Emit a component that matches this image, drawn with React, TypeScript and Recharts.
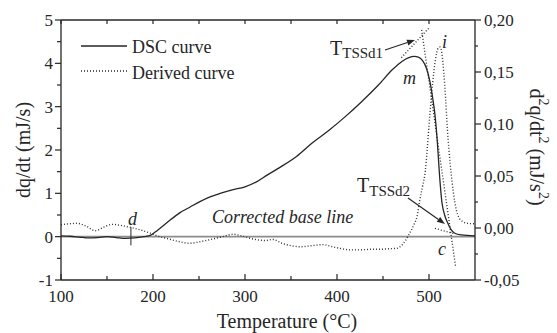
import { ComposedChart, Line, XAxis, YAxis, ReferenceLine } from "recharts";

const INK = "#262626";
const FONT = "Liberation Serif, Times New Roman, serif";

// DSC curve (left axis, mJ/s)
const dscTemp = [100, 110, 120, 130, 140, 150, 160, 170, 180, 190, 197, 205, 215, 229, 240, 251, 262, 273, 286, 300, 312, 324, 338, 356, 373, 391, 409, 427, 445, 460, 471, 478, 484, 489, 493, 497, 501, 504, 506.5, 509, 511.5, 514, 517, 520, 524, 528, 535, 550];
const dscFlow = [0.02, 0.01, -0.01, -0.03, -0.02, 0.0, -0.02, -0.04, -0.03, 0.0, 0.03, 0.15, 0.32, 0.55, 0.68, 0.81, 0.92, 1.0, 1.08, 1.15, 1.26, 1.42, 1.6, 1.85, 2.16, 2.45, 2.77, 3.12, 3.5, 3.85, 4.05, 4.13, 4.16, 4.14, 4.06, 3.9, 3.58, 3.2, 2.81, 2.2, 1.4, 0.8, 0.5, 0.33, 0.16, 0.08, 0.04, 0.02];

// derived curve (right axis, mJ/s^2)
const derTemp = [100, 108, 117, 127, 137, 147, 155, 165, 175, 187, 197, 206, 215, 228, 240, 252, 265, 277, 287, 298, 309, 323, 330, 341, 350, 360, 372, 385, 395, 403, 414, 425, 436, 446, 456, 465, 472, 479, 484, 487, 490, 493, 496, 498, 501, 504, 507, 510, 512, 514, 516, 518, 520, 523, 525, 528, 532, 537, 542, 550];
const derValue = [0.003, 0.004, 0.0045, 0.002, -0.0026, 0.001, 0.0035, 0.0025, 0.0007, -0.002, -0.005, -0.008, -0.01, -0.013, -0.0147, -0.013, -0.0106, -0.008, -0.006, -0.008, -0.0106, -0.012, -0.011, -0.015, -0.017, -0.018, -0.017, -0.016, -0.018, -0.0195, -0.021, -0.021, -0.0205, -0.0205, -0.02, -0.0195, -0.015, -0.005, 0.004, 0.011, 0.027, 0.04, 0.055, 0.075, 0.11, 0.14, 0.162, 0.173, 0.174, 0.168, 0.15, 0.125, 0.095, 0.062, 0.045, 0.025, 0.011, 0.006, 0.0045, 0.004];

const xTicks = [100, 150, 200, 250, 300, 350, 400, 450, 500];
const leftTicks = [-1, -0.5, 0, 0.5, 1, 1.5, 2, 2.5, 3, 3.5, 4, 4.5, 5];
const rightTicks = [-0.05, -0.025, 0, 0.025, 0.05, 0.075, 0.1, 0.125, 0.15, 0.175, 0.2];

// construction lines on the DSC scale
const tangentRise = [{ x: 470, y: 4.13 }, { x: 501, y: 4.84 }];
const tangentFall = [{ x: 492, y: 4.77 }, { x: 529, y: -0.7 }];
const tangentTail = [{ x: 506.5, y: 0.19 }, { x: 527, y: 0.07 }];
const markD = [{ x: 176, y: 0.22 }, { x: 176, y: -0.2 }];

const dscData = dscTemp.map((T, i) => ({ T, v: dscFlow[i] }));
const derData = derTemp.map((T, i) => ({ T, v: derValue[i] }));

const txt = { style: { fontFamily: FONT, fontSize: 17 }, fill: INK };

const BottomTick = ({ x, y, payload }: any) => {
  const major = payload.value % 100 === 0;
  return (
    <g>
      <line x1={x} x2={x} y1={y} y2={y - (major ? 6 : 4)} stroke={INK} strokeWidth={1.2} />
      {major && <text x={x} y={y + 22} textAnchor="middle" {...txt}>{payload.value}</text>}
    </g>
  );
};

const TopTick = ({ x, y }: any) => <line x1={x} x2={x} y1={y} y2={y + 4} stroke={INK} strokeWidth={1.2} />;

const LeftTick = ({ x, y, payload }: any) => {
  const major = Number.isInteger(payload.value);
  return (
    <g>
      <line x1={x} x2={x - (major ? 6 : 4)} y1={y} y2={y} stroke={INK} strokeWidth={1.2} />
      {major && <text x={x - 8} y={y + 6} textAnchor="end" {...txt}>{payload.value}</text>}
    </g>
  );
};

const RightTick = ({ x, y, payload }: any) => {
  const major = Math.round(payload.value * 1000) % 50 === 0;
  return (
    <g>
      <line x1={x} x2={x + (major ? 6 : 3)} y1={y} y2={y} stroke={INK} strokeWidth={1.2} />
      {major && <text x={x + 9} y={y + 6} textAnchor="start" {...txt}>{payload.value.toFixed(2).replace(".", ",")}</text>}
    </g>
  );
};

function Arrow({ x1, y1, x2, y2 }: { x1: number; y1: number; x2: number; y2: number }) {
  const a = Math.atan2(y2 - y1, x2 - x1);
  const L = 8, W = 3;
  const bx = x2 - L * Math.cos(a), by = y2 - L * Math.sin(a);
  const p = `${x2},${y2} ${bx + W * Math.sin(a)},${by - W * Math.cos(a)} ${bx - W * Math.sin(a)},${by + W * Math.cos(a)}`;
  return (
    <g>
      <line x1={x1} y1={y1} x2={bx} y2={by} stroke={INK} strokeWidth={1.2} />
      <polygon points={p} fill={INK} />
    </g>
  );
}

function Overlay() {
  const f = (size: number, italic = false) => ({ style: { fontFamily: FONT, fontSize: size, fontStyle: italic ? "italic" : "normal" }, fill: INK });
  return (
    <svg width={557} height={333} style={{ position: "absolute", left: 0, top: 0, pointerEvents: "none" }}>
      {/* legend */}
      <line x1={81} x2={127} y1={46} y2={46} stroke={INK} strokeWidth={1.3} />
      <text x={132} y={53} {...f(18)}>DSC curve</text>
      <line x1={81} x2={127} y1={71} y2={71} stroke={INK} strokeWidth={1.3} strokeDasharray="1 2" />
      <text x={132} y={78.5} {...f(18)}>Derived curve</text>

      {/* axis titles */}
      <text x={23} y={150} transform="rotate(-90 23 150)" textAnchor="middle" dominantBaseline="central" {...f(20)}>dq/dt (mJ/s)</text>
      <text x={537} y={147} transform="rotate(90 537 147)" textAnchor="middle" dominantBaseline="central" {...f(20)}>
        d<tspan dy={-7} style={{ fontSize: 14 }}>2</tspan><tspan dy={7}>q/dt</tspan><tspan dy={-7} style={{ fontSize: 14 }}>2</tspan><tspan dy={7}> (mJ/s</tspan><tspan dy={-7} style={{ fontSize: 14 }}>2</tspan><tspan dy={7}>)</tspan>
      </text>
      <text x={287} y={328} textAnchor="middle" {...f(20)}>Temperature (°C)</text>

      {/* annotations */}
      <text x={330} y={55} {...f(20)}>T<tspan style={{ fontSize: 15 }} dy={3}>TSSd1</tspan></text>
      <Arrow x1={385} y1={50} x2={415} y2={40} />
      <text x={357} y={192} {...f(20)}>T<tspan style={{ fontSize: 15 }} dy={4}>TSSd2</tspan></text>
      <Arrow x1={408} y1={198} x2={445} y2={224} />
      <text x={403} y={84} {...f(18, true)}>m</text>
      <text x={442} y={48} {...f(18, true)}>i</text>
      <text x={128} y={225} {...f(18, true)}>d</text>
      <text x={438} y={255} {...f(18, true)}>c</text>
      <text x={212} y={223} {...f(18, true)}>Corrected base line</text>
    </svg>
  );
}

export default function App() {
  return (
    <div style={{ position: "absolute", left: 0, top: 0, width: 557, height: 333, background: "#fff" }}>
      <ComposedChart width={557} height={333} margin={{ top: 19, right: 0, bottom: 0, left: 0 }}>
        <XAxis dataKey="T" type="number" domain={[100, 550]} ticks={xTicks} interval={0} allowDataOverflow
          height={53} tickSize={0} tickMargin={0} tick={<BottomTick />} tickLine={false} axisLine={{ stroke: INK, strokeWidth: 1.3 }} />
        <XAxis xAxisId="top" orientation="top" dataKey="T" type="number" domain={[100, 550]} ticks={xTicks} interval={0} allowDataOverflow
          height={1} tickSize={0} tickMargin={0} tick={<TopTick />} tickLine={false} axisLine={{ stroke: INK, strokeWidth: 1.3 }} />
        <YAxis yAxisId="left" type="number" domain={[-1, 5]} ticks={leftTicks} interval={0} allowDataOverflow
          width={61} tickSize={0} tickMargin={0} tick={<LeftTick />} tickLine={false} axisLine={{ stroke: INK, strokeWidth: 1.3 }} />
        <YAxis yAxisId="right" orientation="right" type="number" domain={[-0.05, 0.2]} ticks={rightTicks} interval={0} allowDataOverflow
          width={82} tickSize={0} tickMargin={0} tick={<RightTick />} tickLine={false} axisLine={{ stroke: INK, strokeWidth: 1.3 }} />

        <ReferenceLine yAxisId="left" y={0} stroke="#8c8c8c" strokeWidth={1.6} />
        <ReferenceLine yAxisId="left" segment={markD} stroke={INK} strokeWidth={1} />
        <ReferenceLine yAxisId="left" segment={tangentRise} stroke={INK} strokeWidth={1.3} strokeDasharray="1 2" />
        <ReferenceLine yAxisId="left" segment={tangentFall} stroke={INK} strokeWidth={1.3} strokeDasharray="1 2" />
        <ReferenceLine yAxisId="left" segment={tangentTail} stroke={INK} strokeWidth={1.3} strokeDasharray="1 2" />

        <Line yAxisId="right" data={derData} dataKey="v" type="monotone" stroke="#333" strokeWidth={1.4} strokeDasharray="1 2" dot={false} isAnimationActive={false} />
        <Line yAxisId="left" data={dscData} dataKey="v" type="monotone" stroke={INK} strokeWidth={1.3} dot={false} isAnimationActive={false} />
      </ComposedChart>
      <Overlay />
    </div>
  );
}
